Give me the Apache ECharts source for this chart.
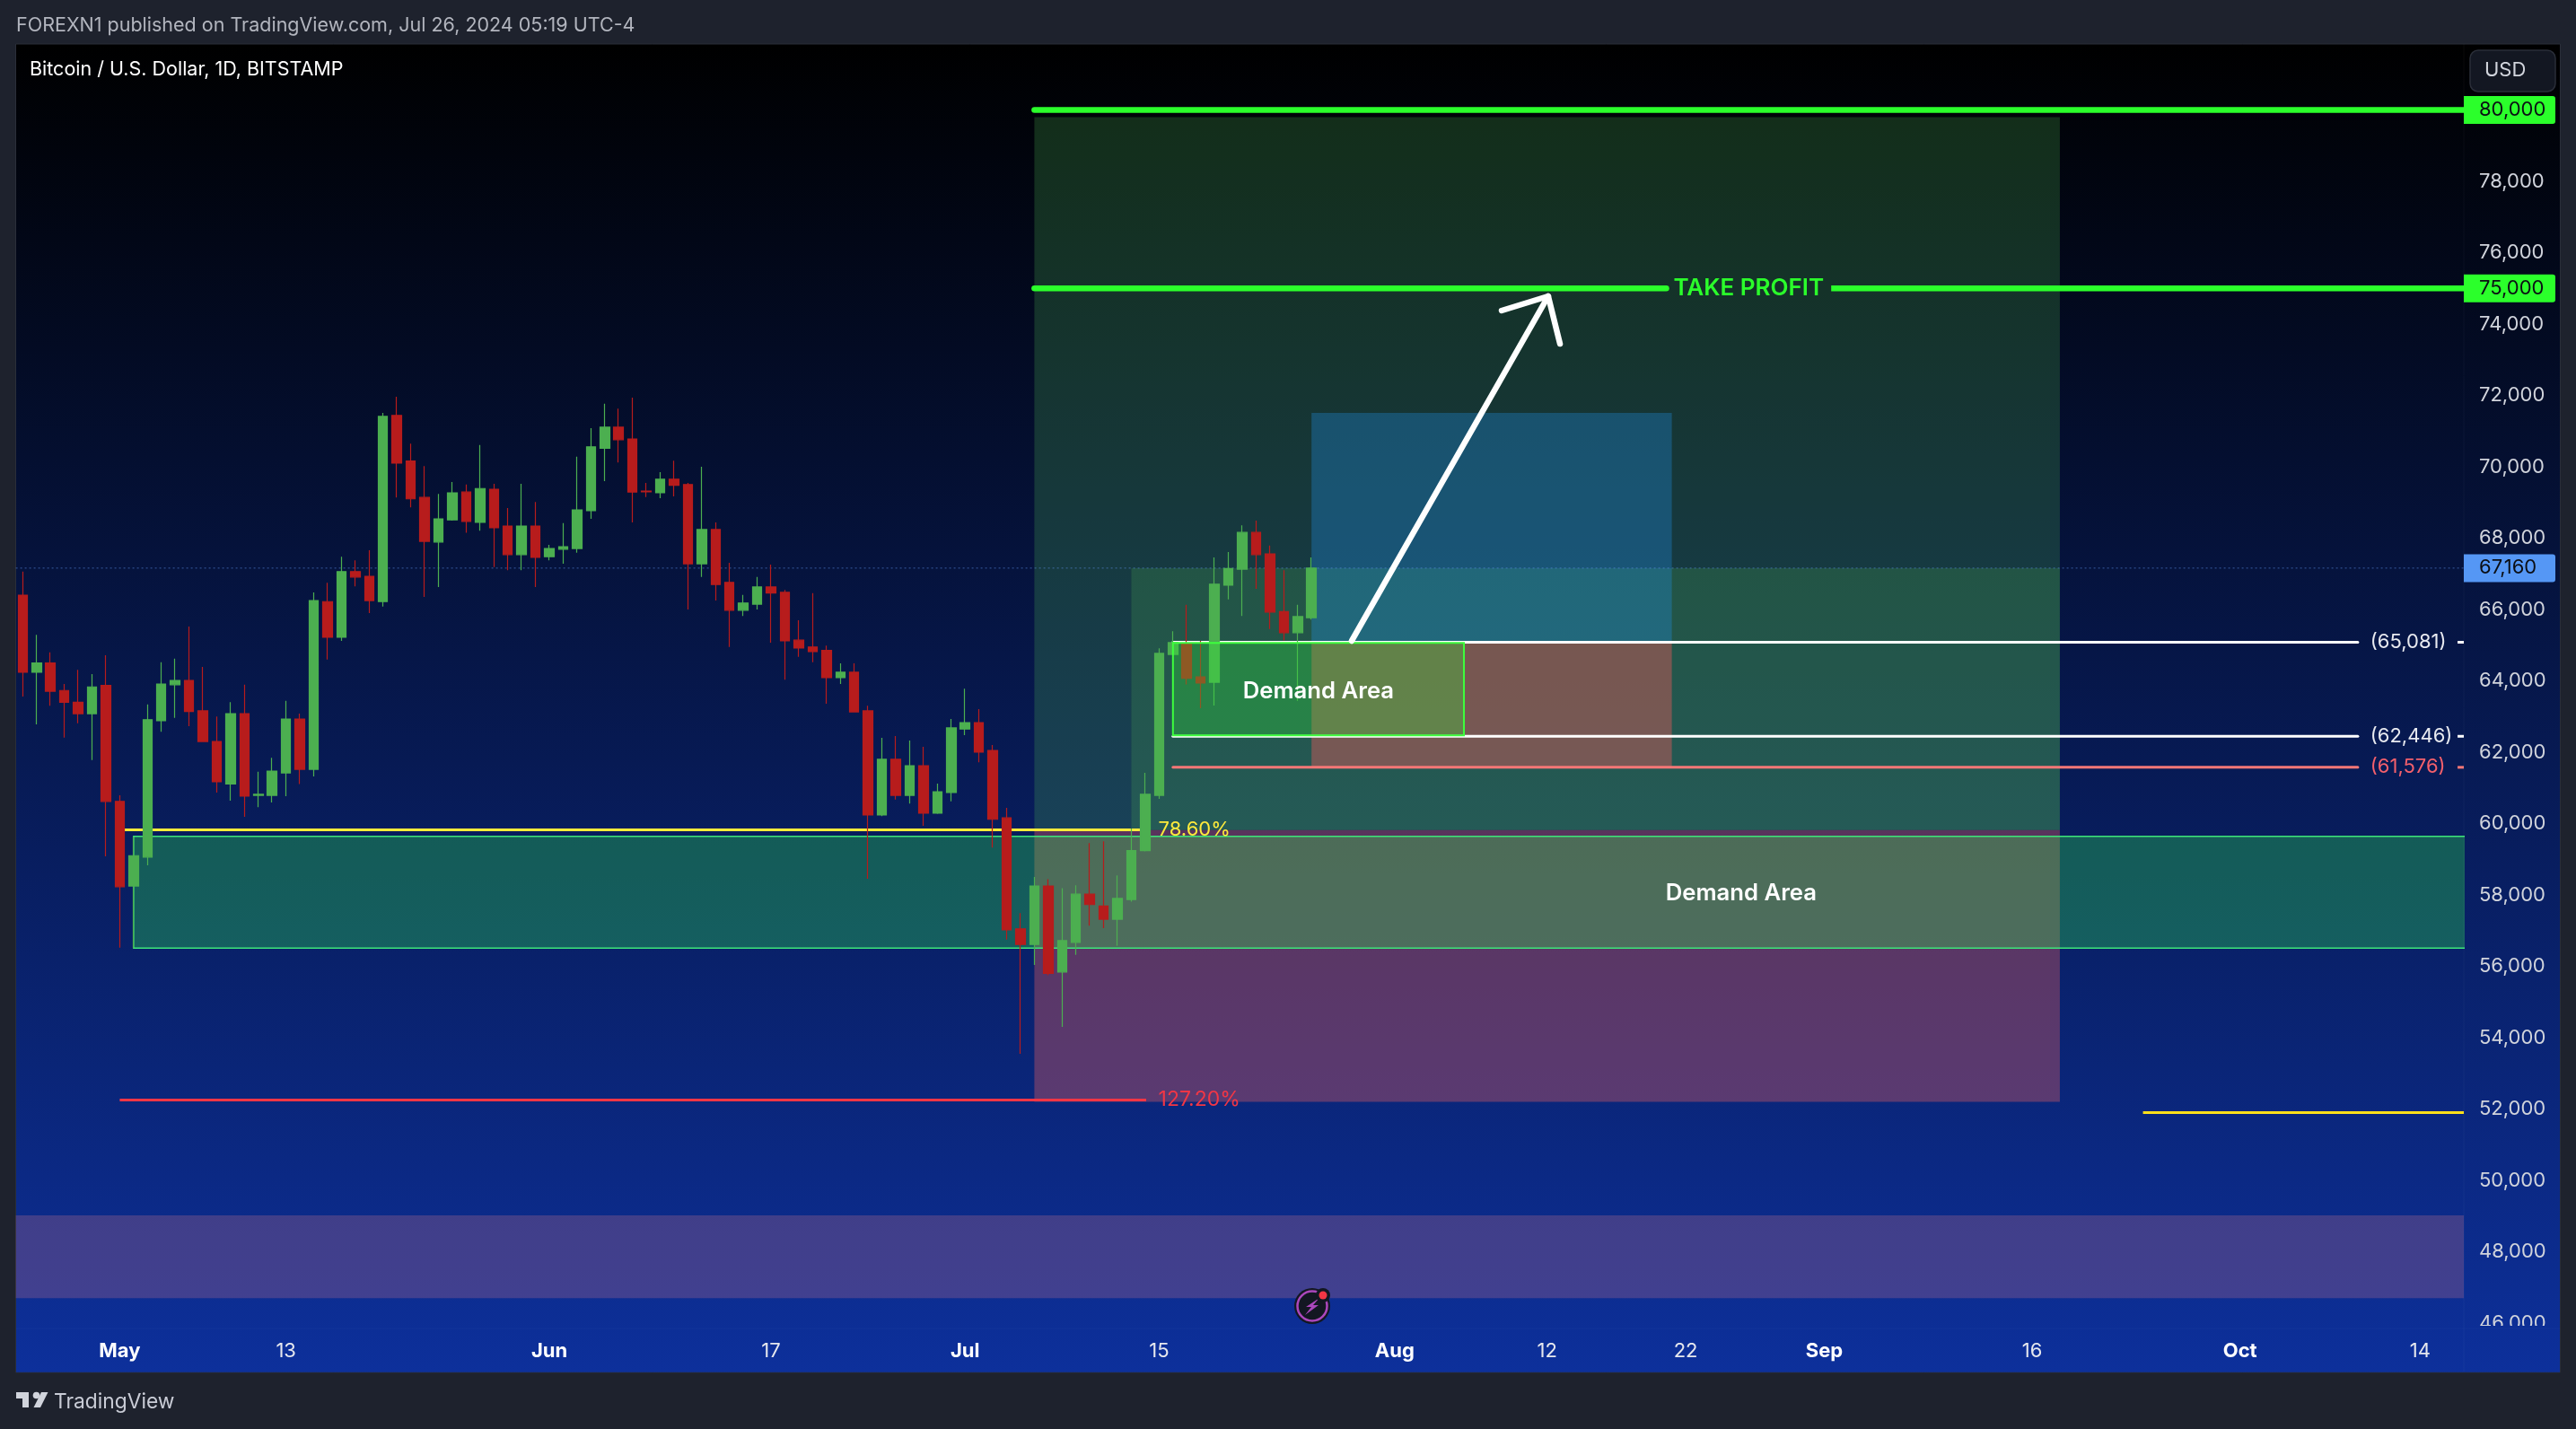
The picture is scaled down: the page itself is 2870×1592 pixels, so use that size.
<!DOCTYPE html>
<html>
<head>
<meta charset="utf-8">
<style>html,body{margin:0;padding:0;background:#1e222d}#chart{width:2870px;height:1592px}</style>
<script src="https://cdn.jsdelivr.net/npm/echarts@6/dist/echarts.min.js"></script>
</head>
<body>
<div id="chart"></div>
<script>
// BTC/USD daily candles; index 0 = Apr 24 2024, index 93 = Jul 26 2024
const opens = [66400,64240,64500,63730,63400,63080,63870,60620,58250,59060,62880,63890,64010,63160,62300,61110,63080,60790,60790,61420,62930,61520,66220,65220,67060,66930,66220,71440,70160,69140,67890,68510,69290,68440,69370,68340,67540,68340,67480,67690,67710,68770,70520,71110,70780,69320,69270,69650,69500,67280,68240,66760,65980,66150,66630,66480,65140,64950,64850,64090,64240,63160,60240,61800,60790,61620,60290,60870,62650,62830,62050,60160,57050,56610,58250,55840,56670,58020,57690,57320,57870,59240,60790,64740,65040,64110,63960,66680,67130,68160,67560,65940,65350,65770];
const closes = [64240,64500,63710,63400,63080,63830,60620,58230,59100,62910,63910,64010,63140,62300,61170,63080,60770,60820,61470,62930,61520,66250,65220,67060,66910,66250,71410,70100,69100,67910,68540,69270,68470,69390,68290,67540,68340,67460,67710,67760,68790,70560,71110,70760,69290,69300,69650,69480,67280,68240,66700,65980,66180,66630,66460,65120,64920,64820,64090,64240,63130,60240,61800,60790,61620,60290,60890,62680,62830,62000,60120,57020,56610,58250,55800,56720,58020,57730,57320,57900,59240,60820,64770,65070,64070,63940,66710,67150,68160,67540,65930,65350,65800,67160];
const lows = [63560,62780,63300,62410,62810,61780,59080,56520,56510,58830,62570,62960,62730,62280,60870,60640,60190,60460,60590,60770,61110,61320,64600,65120,66650,65900,66080,69140,68860,66350,66630,68490,68150,68210,67190,67100,67100,66630,67380,67280,67590,68540,69600,70120,68440,69150,69120,69170,66000,66910,66250,64950,65820,66000,65070,64030,64670,64520,63360,63910,63120,58450,60210,60670,60560,59940,60270,60620,62480,61720,59330,56750,53550,56040,55750,54300,56320,57140,57070,56570,57810,59220,60690,64730,63900,63230,63310,66280,65820,66580,65450,65130,63440,65720];
const highs = [67060,65290,64800,63910,64310,64190,64720,60790,59630,63340,64520,64620,65520,64390,63000,63400,63890,61450,61840,63440,63080,66480,66750,67480,67380,67660,71510,71960,70650,70020,69240,69570,69500,70610,69520,68840,69520,69010,67810,68420,70280,71080,71770,71630,71940,69550,69850,70170,69550,70000,68440,67310,66410,66910,67260,66550,65700,66460,64990,64490,64490,63300,62400,62450,62330,62150,61120,62930,63780,63210,62200,60440,57490,58500,58440,58190,58270,59450,59500,58550,59860,61420,64910,65390,66130,65120,67460,67610,68360,68490,67790,67100,66130,67460];

// Time axis: day index -> tick label
const tickDays = [7,19,38,54,68,82,99,110,120,130,145,160,173];
const tickLabels = ['May','13','Jun','17','Jul','15','Aug','12','22','Sep','16','Oct','14'];
const monthLabels = ['May','Jun','Jul','Aug','Sep','Oct'];

// Price axis
const priceTicks = [46000,48000,50000,52000,54000,56000,58000,60000,62000,64000,66000,68000,70000,72000,74000,76000,78000];
const lastPrice = 67160;
const targetPrices = [80000,75000];

// Drawing-tool zones: [startDay, endDay, topPrice, bottomPrice]
const rightEdge = 176.15;
const zoneLongProfit = [73,147,79800,59820];
const zoneInnerProfit = [80,147,67160,59820];
const zoneLongStop = [73,147,59820,52200];
const zoneLargeDemand = [8,178,59640,56510];
const zoneBottomBand = [-0.5,rightEdge,49020,46700];
const zoneBlueTarget = [93,119,71510,65081];
const zoneRedStop = [93,119,65081,61576];
const zoneSmallDemand = [83,104,65060,62470];

// Drawing-tool lines: [startDay, endDay, price]
const lineTarget80 = [73,178,80000];
const lineTarget75a = [73,118.6,75000];
const lineTarget75b = [130.5,178,75000];
const lineFib786 = [7,81,59824];
const lineFib1272 = [7,81.07,52250];
const lineYellowShort = [153,rightEdge,51900];
const line65081 = [83,168.5,65081];
const line65081b = [175.7,rightEdge,65081];
const line62446 = [83,168.5,62446];
const line62446b = [175.7,rightEdge,62446];
const line61576 = [83,168.5,61576];
const line61576b = [175.7,rightEdge,61576];
const lineLast = [-0.5,rightEdge,lastPrice];

// Arrow, [day, price]
const arrowShaft = [[95.9,65120],[110.08,74780]];
const arrowHead = [[106.72,74377],[110.08,74780],[110.93,73447]];

// Text notes: [day, price]
const noteTakeProfit = [124.55,75000];
const noteFib786 = [81.95,59824];
const noteFib1272 = [81.95,52250];
const noteDemandSmall = [93.5,63710];
const noteDemandLarge = [124,58040];
const note65081 = [169.4,65081];
const note62446 = [169.4,62446];
const note61576 = [169.4,61576];

const FONT = 'Inter, "Noto Sans", sans-serif';
const candles = opens.map((o,i)=>[i,o,closes[i],lows[i],highs[i]]);

function zoneSeries(rows, fills, strokes, z){
  return {type:'custom',coordinateSystem:'cartesian2d',z,clip:true,silent:true,
    data:rows,encode:{x:[0,1],y:[2,3]},
    renderItem(p,api){
      const a=api.coord([api.value(0),api.value(2)]), b=api.coord([api.value(1),api.value(3)]);
      const s=strokes[p.dataIndex];
      return {type:'rect',shape:{x:a[0],y:a[1],width:b[0]-a[0],height:b[1]-a[1]},
        style:{fill:fills[p.dataIndex],stroke:s?s.c:null,lineWidth:s?s.w:0}};
    }};
}
function lineSeries(rows, styles, z){
  return {type:'custom',coordinateSystem:'cartesian2d',z,clip:true,silent:true,
    data:rows,encode:{x:[0,1],y:2},
    renderItem(p,api){
      const a=api.coord([api.value(0),api.value(2)]), b=api.coord([api.value(1),api.value(2)]);
      const s=styles[p.dataIndex];
      return {type:'line',shape:{x1:a[0],y1:a[1],x2:b[0],y2:b[1]},
        style:{stroke:s.c,lineWidth:s.w,lineCap:s.cap||'butt',lineDash:s.dash||null}};
    }};
}
function noteSeries(rows, texts, z){
  return {type:'custom',coordinateSystem:'cartesian2d',z,clip:false,silent:true,
    data:rows,encode:{x:0,y:1},
    renderItem(p,api){
      const a=api.coord([api.value(0),api.value(1)]), t=texts[p.dataIndex];
      return {type:'text',style:{x:a[0],y:a[1]+(t.dy||0),text:t.t,fill:t.c,font:t.f,align:t.a||'left',verticalAlign:'middle'}};
    }};
}
function polySeries(paths, z){
  return paths.map(path=>({type:'custom',coordinateSystem:'cartesian2d',z,clip:true,silent:true,
    data:path,encode:{x:0,y:1},
    renderItem(p,api){
      if(p.dataIndex!==0) return null;
      const pts=path.map(q=>api.coord(q));
      return {type:'polyline',shape:{points:pts},style:{stroke:'#ffffff',lineWidth:6.5,lineCap:'round',lineJoin:'round',fill:null}};
    }}));
}
const tagColors = ['#2bff2b','#2bff2b'];
function tagSeries(prices, colors){
  return {type:'custom',coordinateSystem:'cartesian2d',z:25,clip:false,silent:true,
    data:prices.map(v=>[0,v]),encode:{x:0,y:1},
    renderItem(p,api){
      const y=api.coord([0,api.value(1)])[1], x=p.coordSys.x+p.coordSys.width;
      return {type:'group',children:[
        {type:'rect',shape:{x,y:y-15.5,width:102,height:31,r:[0,3,3,0]},style:{fill:colors[p.dataIndex]}},
        {type:'text',style:{x:x+17,y:y,text:api.value(1).toLocaleString('en-US'),fill:'#0b0e14',font:'22px '+FONT,align:'left',verticalAlign:'middle'}}
      ]};
    }};
}

const GREEN='rgba(76,175,80,0.25)';
const GREEN2='rgba(76,175,80,0.23)';
const option = {
  animation:false,
  backgroundColor:'#1e222d',
  grid:{left:17.6,top:49,width:2727.4,height:1431,containLabel:false},
  xAxis:{type:'value',min:-0.5,max:rightEdge,z:20,
    axisLine:{show:false},axisTick:{show:false},splitLine:{show:false},
    axisLabel:{customValues:tickDays,margin:14,color:'#ffffff',fontFamily:FONT,fontSize:22,
      formatter:v=>{const t=tickLabels[tickDays.indexOf(v)]; return monthLabels.includes(t)?'{m|'+t+'}':'{d|'+t+'}';},
      rich:{m:{fontFamily:FONT,fontSize:22,fontWeight:700,color:'#ffffff'},d:{fontFamily:FONT,fontSize:22,color:'#e6e8ee'}}}},
  yAxis:{type:'value',position:'right',min:45849,max:81849,z:1,
    axisLine:{show:false},axisTick:{show:false},splitLine:{show:false},
    axisLabel:{customValues:priceTicks,margin:17,color:'#d1d4dc',fontFamily:FONT,fontSize:22,align:'left',
      formatter:v=>v.toLocaleString('en-US')}},
  graphic:{elements:[
    {type:'rect',z:0,silent:true,shape:{x:17.5,y:49,width:2835,height:1480},
      style:{fill:{type:'linear',x:0,y:0,x2:0,y2:1,colorStops:[{offset:0,color:'#000000'},{offset:1,color:'#0d309b'}]},stroke:'#2a2e39',lineWidth:1}},
    {type:'rect',z:10,silent:true,shape:{x:18,y:1477,width:2834,height:51.5},
      style:{fill:{type:'linear',x:0,y:0,x2:0,y2:1,colorStops:[{offset:0,color:'#0c2e96'},{offset:1,color:'#0d309b'}]}}},
    {type:'line',z:11,silent:true,shape:{x1:18,y1:1480,x2:2852,y2:1480},style:{stroke:'rgba(255,255,255,0.03)',lineWidth:1}},
    {type:'line',z:11,silent:true,shape:{x1:2745,y1:49,x2:2745,y2:1528},style:{stroke:'rgba(255,255,255,0.04)',lineWidth:1}},
    {type:'text',z:30,silent:true,style:{x:18,y:29,text:'FOREXN1 published on TradingView.com, Jul 26, 2024 05:19 UTC-4',font:'21.5px '+FONT,fill:'#b2b5be',verticalAlign:'middle'}},
    {type:'text',z:30,silent:true,style:{x:33,y:78,text:'Bitcoin / U.S. Dollar, 1D, BITSTAMP',font:'21.5px '+FONT,fill:'#ffffff',verticalAlign:'middle'}},
    {type:'rect',z:30,silent:true,shape:{x:2752,y:56,width:95,height:46,r:9},style:{fill:'#131722',stroke:'#2a2e39',lineWidth:1.5}},
    {type:'text',z:31,silent:true,style:{x:2768,y:78,text:'USD',font:'22px '+FONT,fill:'#d1d4dc',verticalAlign:'middle'}},
    // TradingView logo
    {type:'polygon',z:30,silent:true,shape:{points:[[18,1551],[32,1551],[32,1568],[25,1568],[25,1558],[18,1558]]},style:{fill:'#d1d4dc'}},
    {type:'circle',z:30,silent:true,shape:{cx:40.5,cy:1554.5,r:3.8},style:{fill:'#d1d4dc'}},
    {type:'polygon',z:30,silent:true,shape:{points:[[46,1551],[53.5,1551],[45,1568],[37.5,1568]]},style:{fill:'#d1d4dc'}},
    {type:'text',z:30,silent:true,style:{x:60,y:1562,text:'TradingView',font:'22.8px '+FONT,fill:'#c9ccd6',verticalAlign:'middle'}},
    // Lightning badge
    {type:'circle',z:32,silent:true,shape:{cx:1462,cy:1455,r:20},style:{fill:'#131722'}},
    {type:'circle',z:32,silent:true,shape:{cx:1462,cy:1455,r:16.5},style:{fill:'none',stroke:'#ab47bc',lineWidth:2.5}},
    {type:'polygon',z:33,silent:true,shape:{points:[[1470,1446],[1455,1456],[1461,1456],[1454,1465],[1469,1454],[1463,1454]]},style:{fill:'#ab47bc'}},
    {type:'circle',z:33,silent:true,shape:{cx:1474,cy:1443,r:8},style:{fill:'#131722'}},
    {type:'circle',z:34,silent:true,shape:{cx:1474,cy:1443,r:4.5},style:{fill:'#f23645'}}
  ]},
  series:[
    zoneSeries([zoneLongProfit,zoneInnerProfit,zoneLongStop,zoneBottomBand,zoneBlueTarget,zoneRedStop,zoneLargeDemand],
      [GREEN,GREEN2,'rgba(255,100,95,0.33)','rgba(188,110,140,0.3)','rgba(33,150,243,0.3)','rgba(244,90,90,0.4)','rgba(50,240,75,0.3)'],
      [null,null,null,null,null,null,{c:'#3ee57a',w:1.5}],1),
    lineSeries([lineLast],[{c:'rgba(100,150,240,0.55)',w:1,dash:[2,3]}],1),
    lineSeries([lineFib786,lineFib1272,lineYellowShort,line61576,line61576b,line65081,line65081b,line62446,line62446b],
      [{c:'#ffeb3b',w:3},{c:'#f23645',w:3},{c:'#ffe01a',w:3},{c:'#f77777',w:3,cap:'round'},{c:'#f77777',w:3},{c:'#ffffff',w:3,cap:'round'},{c:'#ffffff',w:3},{c:'#ffffff',w:3,cap:'round'},{c:'#ffffff',w:3}],1.5),
    lineSeries([lineTarget80,lineTarget75a,lineTarget75b],[{c:'#2bff2b',w:6.5,cap:'round'},{c:'#2bff2b',w:6.5,cap:'round'},{c:'#2bff2b',w:6.5}],1.5),
    {type:'candlestick',z:3,barWidth:11,data:candles,silent:true,
      itemStyle:{color:'#4caf50',color0:'#b71c1c',borderColor:'#4caf50',borderColor0:'#b71c1c',borderWidth:1.2}},
    zoneSeries([zoneSmallDemand],['rgba(50,233,57,0.3)'],[{c:'#3dff3d',w:2}],4),
    ...polySeries([arrowShaft,arrowHead],5),
    noteSeries([noteTakeProfit,noteFib786,noteFib1272,noteDemandSmall,noteDemandLarge,note65081,note62446,note61576],[
      {t:'TAKE PROFIT',c:'#2bff2b',f:'600 26px '+FONT,a:'center'},
      {t:'78.60%',c:'#ffeb3b',f:'22px '+FONT},
      {t:'127.20%',c:'#f23645',f:'23px '+FONT},
      {t:'Demand Area',c:'#ffffff',f:'600 25.7px '+FONT,a:'center'},
      {t:'Demand Area',c:'#ffffff',f:'600 25.7px '+FONT,a:'center'},
      {t:'(65,081)',c:'#e8eaf0',f:'22px '+FONT},
      {t:'(62,446)',c:'#e8eaf0',f:'22px '+FONT},
      {t:'(61,576)',c:'#f4606c',f:'22px '+FONT}
    ],6),
    tagSeries(targetPrices,tagColors),
    tagSeries([lastPrice],['#5597f5'])
  ]
};
const chart = echarts.init(document.getElementById('chart'),null,{renderer:'canvas'});
chart.setOption(option);
</script>
</body>
</html>
